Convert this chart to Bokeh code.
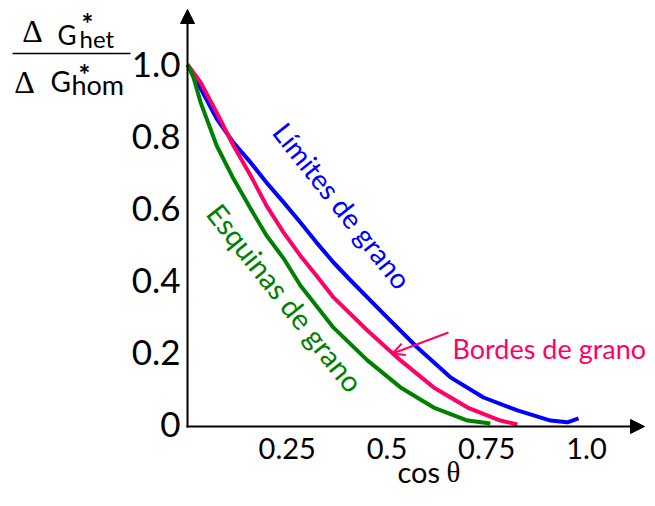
from bokeh.plotting import figure
from bokeh.models import Label, Arrow, NormalHead, OpenHead
from bokeh.core.properties import value
from bokeh.embed import file_html
from bokeh.resources import INLINE

# ---------------- data ----------------
cos_limites = [0.0, 0.033, 0.073, 0.115, 0.158, 0.198, 0.241, 0.283, 0.323, 0.366,
               0.409, 0.491, 0.576, 0.659, 0.742, 0.827, 0.910, 0.952, 0.980]
ratio_limites = [1.0, 0.933, 0.850, 0.783, 0.728, 0.672, 0.617, 0.561, 0.506, 0.450,
                 0.400, 0.308, 0.214, 0.131, 0.075, 0.039, 0.011, 0.006, 0.017]

cos_bordes = [0.0, 0.033, 0.073, 0.115, 0.158, 0.198, 0.241, 0.283, 0.323, 0.366,
              0.451, 0.534, 0.617, 0.702, 0.784, 0.827]
ratio_bordes = [1.0, 0.950, 0.867, 0.775, 0.692, 0.608, 0.533, 0.469, 0.414, 0.353,
                0.261, 0.178, 0.103, 0.047, 0.011, 0.0]

cos_esquinas = [0.0, 0.015, 0.033, 0.073, 0.115, 0.158, 0.198, 0.241, 0.283, 0.366,
                0.451, 0.534, 0.617, 0.702, 0.759]
ratio_esquinas = [1.0, 0.964, 0.894, 0.775, 0.683, 0.600, 0.525, 0.461, 0.386, 0.269,
                  0.178, 0.103, 0.047, 0.011, 0.003]

x_ticks = [0.25, 0.5, 0.75, 1.0]
x_tick_labels = ["0.25", "0.5", "0.75", "1.0"]
y_ticks = [0.0, 0.2, 0.4, 0.6, 0.8, 1.0]
y_tick_labels = ["0", "0.2", "0.4", "0.6", "0.8", "1.0"]

BLUE = "#0000FF"
PINK = "#FF0066"
GREEN = "#008000"
FONT = "Lato"

# ---------------- layout (pixel design) ----------------
W, H = 647, 490
X0, SX = 187, 399.0          # px of x=0, px per unit
Y0, SY = 424, 360.0          # px of y=0, px per unit


def dx(px):
    return (px - X0) / SX


def dy(py):
    return (Y0 - py) / SY


p = figure(width=W, height=H, output_backend="svg", toolbar_location=None,
           x_range=(dx(0), dx(W)), y_range=(dy(H), dy(0)),
           x_axis_location=None, y_axis_location=None,
           min_border_left=0, min_border_right=0,
           min_border_top=0, min_border_bottom=0)
p.outline_line_color = None
p.xgrid.visible = False
p.ygrid.visible = False
p.background_fill_color = "white"
p.border_fill_color = "white"

# tick labels, placed at the tick values through the plot's scales
p.text(x=x_ticks, y=[dy(448)] * len(x_ticks), text=x_tick_labels,
       text_align="center", text_baseline="middle", text_font=value(FONT),
       text_font_size="29px", text_color="black")
p.text(x=[dx(180)] * len(y_ticks), y=y_ticks, text=y_tick_labels,
       text_align="right", text_baseline="middle", text_font=value(FONT),
       text_font_size="35px", text_color="black")

# curves
p.line(cos_limites, ratio_limites, line_color=BLUE, line_width=4, line_join="round")
p.line(cos_bordes, ratio_bordes, line_color=PINK, line_width=4, line_join="round")
p.line(cos_esquinas, ratio_esquinas, line_color=GREEN, line_width=4, line_join="round")

# axes with arrow heads
p.add_layout(Arrow(end=NormalHead(size=14, fill_color="black", line_color="black"),
                   x_start=0, y_start=dy(427), x_end=0, y_end=dy(9),
                   line_color="black", line_width=2))
p.add_layout(Arrow(end=NormalHead(size=14, fill_color="black", line_color="black"),
                   x_start=dx(186), y_start=dy(426), x_end=dx(644), y_end=dy(426),
                   line_color="black", line_width=2))


def lab(px, py, text, size, font=FONT, style="normal", align="left",
        color="black", angle=0.0):
    p.add_layout(Label(x=dx(px), y=dy(py), text=text, text_align=align,
                       text_baseline="middle", text_font=font, angle=angle,
                       text_font_size=size, text_font_style=style,
                       text_color=color))


# curve labels
lab(342, 205, "Límites de grano", "28px", align="center", color=BLUE, angle=-0.90)
lab(285, 297, "Esquinas de grano", "29px", align="center", color=GREEN, angle=-0.90)
lab(452, 348, "Bordes de grano", "27px", color=PINK)
p.add_layout(Arrow(end=OpenHead(size=12, line_color=PINK, line_width=2),
                   x_start=dx(448), y_start=dy(332), x_end=dx(392), y_end=dy(353),
                   line_color=PINK, line_width=2))

# x axis title
lab(397, 471, "cos", "29px")
lab(446, 471, "θ", "29px", font="Liberation Serif")

# y axis title as a fraction
lab(32, 30, "Δ", "32px", font="Liberation Serif", align="center")
lab(57, 34, "G", "26px")
lab(79, 38, "het", "24px")
lab(87, 22, "*", "28px", style="bold", align="center")
p.add_layout(Arrow(end=None, x_start=dx(12), y_start=dy(53), x_end=dx(130), y_end=dy(53),
                   line_color="black", line_width=1.5))
lab(24, 81, "Δ", "32px", font="Liberation Serif", align="center")
lab(50, 80, "G", "28px")
lab(71, 84, "hom", "27px")
lab(84, 73, "*", "28px", style="bold", align="center")

open("out.html", "w").write(file_html(p, INLINE))
